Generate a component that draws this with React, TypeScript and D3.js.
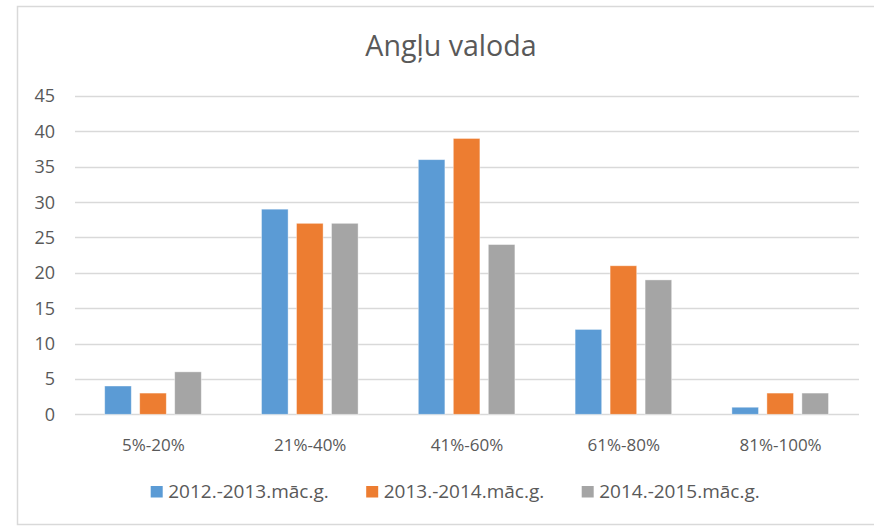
import React, { useRef, useEffect } from "react";
import * as d3 from "d3";

const categories = ["5%-20%", "21%-40%", "41%-60%", "61%-80%", "81%-100%"];
const seriesNames = ["2012.-2013.māc.g.", "2013.-2014.māc.g.", "2014.-2015.māc.g."];
const values2012 = [4, 29, 36, 12, 1];
const values2013 = [3, 27, 39, 21, 3];
const values2014 = [6, 27, 24, 19, 3];
const yTicks = [0, 5, 10, 15, 20, 25, 30, 35, 40, 45];
const colors = ["#5B9BD5", "#ED7D31", "#A5A5A5"];

const App: React.FC = () => {
  const ref = useRef<SVGSVGElement | null>(null);

  useEffect(() => {
    d3.select(ref.current).selectAll("*").remove();

    const svg = d3.select(ref.current);
    const width = 874;
    const height = 526;
    const font = "'Open Sans', 'Noto Sans', sans-serif";
    const textColor = "#595959";
    const gridColor = "#d9d9d9";

    svg.attr("width", width).attr("height", height);

    // chart area frame
    svg
      .append("rect")
      .attr("x", 17.5)
      .attr("y", 6.5)
      .attr("width", 900)
      .attr("height", 518)
      .attr("fill", "#fff")
      .attr("stroke", gridColor)
      .attr("stroke-width", 1.5);

    svg
      .append("text")
      .attr("x", 451)
      .attr("y", 56)
      .attr("text-anchor", "middle")
      .attr("font-family", font)
      .attr("font-size", 28.6)
      .attr("fill", textColor)
      .text("Angļu valoda");

    const left = 75;
    const right = 859;

    const x0 = d3.scaleBand().domain(categories).range([left, right]).padding(0);
    const x1 = d3
      .scaleBand()
      .domain(seriesNames)
      .range([29.7, 126.3])
      .paddingInner(0.24)
      .paddingOuter(0);
    const y = d3.scaleLinear().domain([0, 45]).range([414.3, 96]);

    // gridlines
    svg
      .append("g")
      .selectAll("line")
      .data(yTicks)
      .enter()
      .append("line")
      .attr("x1", left)
      .attr("x2", right)
      .attr("y1", (d) => Math.round(y(d)) + 0.5)
      .attr("y2", (d) => Math.round(y(d)) + 0.5)
      .attr("stroke", gridColor)
      .attr("stroke-width", 1.3);

    // y labels
    svg
      .append("g")
      .selectAll("text")
      .data(yTicks)
      .enter()
      .append("text")
      .attr("x", 55)
      .attr("y", (d) => y(d))
      .attr("dy", "0.36em")
      .attr("text-anchor", "end")
      .attr("font-family", font)
      .attr("font-size", 18)
      .attr("fill", textColor)
      .text((d) => d);

    const series = [values2012, values2013, values2014];

    const groups = svg
      .append("g")
      .selectAll("g")
      .data(categories)
      .enter()
      .append("g")
      .attr("transform", (d) => `translate(${x0(d)}, 0)`);

    groups
      .selectAll("rect")
      .data((c) =>
        seriesNames.map((s, j) => ({ s, j, v: series[j][categories.indexOf(c)] }))
      )
      .enter()
      .append("rect")
      .attr("x", (d) => x1(d.s) || 0)
      .attr("y", (d) => y(d.v))
      .attr("width", x1.bandwidth())
      .attr("height", (d) => y(0) - y(d.v))
      .attr("fill", (d) => colors[d.j])
      .attr("stroke", "#fff")
      .attr("stroke-opacity", 0.5)
      .attr("stroke-width", 0.8);

    // category labels
    svg
      .append("g")
      .selectAll("text")
      .data(categories)
      .enter()
      .append("text")
      .attr("x", (d) => (x0(d) || 0) + x0.bandwidth() / 2)
      .attr("y", 451)
      .attr("text-anchor", "middle")
      .attr("font-family", font)
      .attr("font-size", 17)
      .attr("fill", textColor)
      .text((d) => d);

    // legend
    const legend = svg
      .append("g")
      .selectAll("g")
      .data(seriesNames)
      .enter()
      .append("g")
      .attr("transform", (d, i) => `translate(${150.7 + i * 215.5}, 0)`);

    legend
      .append("rect")
      .attr("x", 0)
      .attr("y", 486)
      .attr("width", 12)
      .attr("height", 11.5)
      .attr("fill", (d, i) => colors[i]);

    legend
      .append("text")
      .attr("x", 17.5)
      .attr("y", 498)
      .attr("font-family", font)
      .attr("font-size", 19)
      .attr("fill", textColor)
      .text((d) => d);
  }, []);

  return (
    <div style={{ position: "absolute", left: 0, top: 0 }}>
      <svg ref={ref} style={{ display: "block" }}></svg>
    </div>
  );
};

export default App;
